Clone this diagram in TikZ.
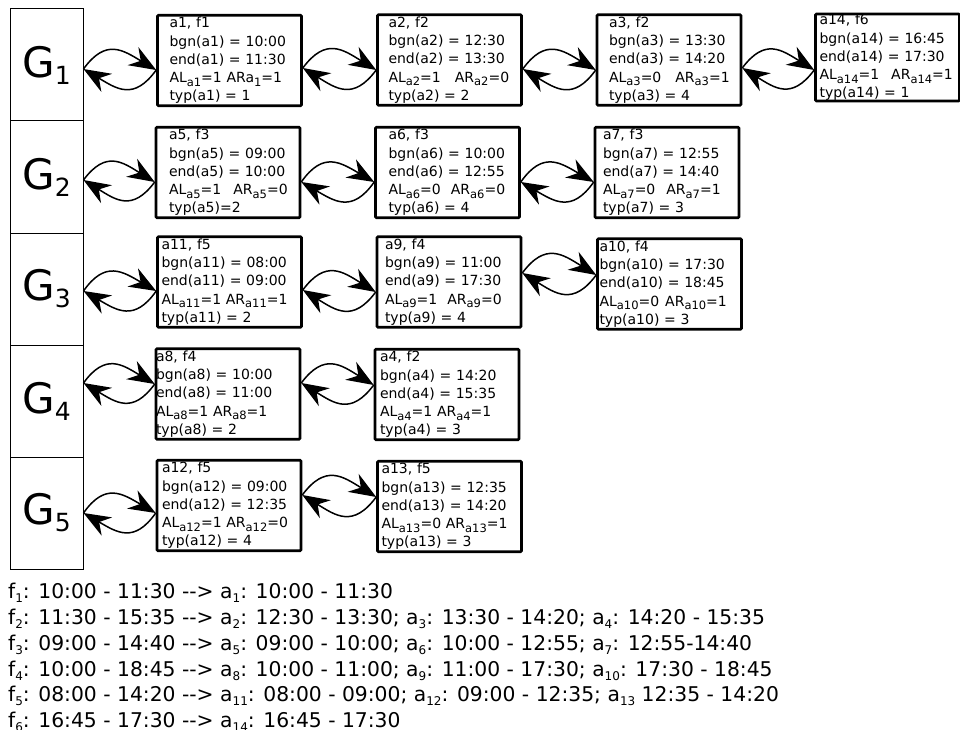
\documentclass[tikz,border=0pt]{standalone}
\usepackage{fontspec}
\newfontfamily\dejavu{DejaVu Sans}
\usetikzlibrary{arrows.meta}

\newcommand{\asub}[1]{\raisebox{-3.5pt}{\fontsize{11.5pt}{11.5pt}\selectfont #1}}
\newcommand{\lsub}[1]{\raisebox{-4pt}{\fontsize{12pt}{12pt}\selectfont #1}}
\newcommand{\gname}[1]{{\fontsize{42pt}{42pt}\selectfont G}\raisebox{-7pt}{\fontsize{25pt}{25pt}\selectfont #1}}

\tikzset{
  gcell/.style={draw, line width=1pt, minimum width=73pt, minimum height=112pt, inner sep=0pt, font=\dejavu},
  actbox/.style={draw, line width=2.6pt, rounded corners=1pt, minimum width=144pt, minimum height=90.5pt,
    inner xsep=0pt, inner ysep=0pt, text width=144pt, align=left, font=\dejavu\fontsize{14pt}{18.2pt}\selectfont,
    execute at begin node={\leftskip=#1\rightskip=0pt plus 1fil minus 25pt\relax}},
  actbox/.default=10pt,
  link/.style={line width=1.5pt, out=55, in=150, relative, looseness=1.35},
}

\begin{document}
\begin{tikzpicture}[x=1pt, y=-1pt, >={Stealth[length=27pt,width=21pt,inset=9pt]}]
        \useasboundingbox (0,0) rectangle (960,730);
        % groups
        \node[gcell] (g1) at (46.5,65) {\gname{1}};
        \node[gcell] (g2) at (46.5,177) {\gname{2}};
        \node[gcell] (g3) at (46.5,289) {\gname{3}};
        \node[gcell] (g4) at (46.5,401) {\gname{4}};
        \node[gcell] (g5) at (46.5,513) {\gname{5}};
        % activities
        \node[actbox=12pt] (a1) at (229.5,60.5) {a1, f1\\bgn(a1) = 10:00\\end(a1) = 11:30\\AL\asub{a1}=1 ARa\asub{1}=1\\typ(a1) = 1};
        \node[actbox=11pt] (a2) at (449.5,60) {a2, f2\\bgn(a2) = 12:30\\end(a2) = 13:30\\AL\asub{a2}=1\hspace{14pt}AR\asub{a2}=0\\typ(a2) = 2};
        \node[actbox=12pt] (a3) at (669,60) {a3, f2\\bgn(a3) = 13:30\\end(a3) = 14:20\\AL\asub{a3}=0\hspace{14pt}AR\asub{a3}=1\\typ(a3) = 4};
        \node[actbox=4pt, minimum height=87pt] (a14) at (887.5,57.5) {a14, f6\\bgn(a14) = 16:45\\end(a14) = 17:30\\AL\asub{a14}=1\hspace{12pt}AR\asub{a14}=1\\typ(a14) = 1};
        \node[actbox=13pt] (a5) at (228,172.5) {a5, f3\\bgn(a5) = 09:00\\end(a5) = 10:00\\AL\asub{a5}=1\hspace{12pt}AR\asub{a5}=0\\typ(a5)=2};
        \node[actbox=13pt] (a6) at (447.5,172.5) {a6, f3\\bgn(a6) = 10:00\\end(a6) = 12:55\\AL\asub{a6}=0\hspace{10pt}AR\asub{a6}=0\\typ(a6) = 4};
        \node[actbox=8pt] (a7) at (667,172.5) {a7, f3\\bgn(a7) = 12:55\\end(a7) = 14:40\\AL\asub{a7}=0\hspace{11pt}AR\asub{a7}=1\\typ(a7) = 3};
        \node[actbox=4pt] (a11) at (229.5,282) {a11, f5\\bgn(a11) = 08:00\\end(a11) = 09:00\\AL\asub{a11}=1 AR\asub{a11}=1\\typ(a11) = 2};
        \node[actbox=8pt] (a9) at (449,282) {a9, f4\\bgn(a9) = 11:00\\end(a9) = 17:30\\AL\asub{a9}=1\hspace{10pt}AR\asub{a9}=0\\typ(a9) = 4};
        \node[actbox=2pt] (a10) at (669.5,284) {a10, f4\\bgn(a10) = 17:30\\end(a10) = 18:45\\AL\asub{a10}=0\hspace{6pt}AR\asub{a10}=1\\typ(a10) = 3};
        \node[actbox=0pt] (a8) at (228,394) {a8, f4\\bgn(a8) = 10:00\\end(a8) = 11:00\\AL\asub{a8}=1 AR\asub{a8}=1\\typ(a8) = 2};
        \node[actbox=5pt] (a4) at (447,394.5) {a4, f2\\bgn(a4) = 14:20\\end(a4) = 15:35\\AL\asub{a4}=1 AR\asub{a4}=1\\typ(a4) = 3};
        \node[actbox=5pt] (a12) at (229,505.5) {a12, f5\\bgn(a12) = 09:00\\end(a12) = 12:35\\AL\asub{a12}=1 AR\asub{a12}=0\\typ(a12) = 4};
        \node[actbox=4pt] (a13) at (449.5,506.5) {a13, f5\\bgn(a13) = 12:35\\end(a13) = 14:20\\AL\asub{a13}=0 AR\asub{a13}=1\\typ(a13) = 3};
        % links, one pair per neighbour
        \draw[->, link] ([yshift=-4pt]g1.east) to ([yshift=-9.5pt]a1.west);
        \draw[->, link] ([yshift=-9.5pt]a1.west) to ([yshift=-4pt]g1.east);
        \draw[->, link] ([yshift=-7.5pt]a1.east) to ([yshift=-10pt]a2.west);
        \draw[->, link] ([yshift=-10pt]a2.west) to ([yshift=-7.5pt]a1.east);
        \draw[->, link] ([yshift=-9pt]a2.east) to ([yshift=-10pt]a3.west);
        \draw[->, link] ([yshift=-10pt]a3.west) to ([yshift=-9pt]a2.east);
        \draw[->, link] ([yshift=-8pt]a3.east) to ([yshift=-12.5pt]a14.west);
        \draw[->, link] ([yshift=-12.5pt]a14.west) to ([yshift=-8pt]a3.east);
        \draw[->, link] ([yshift=-3pt]g2.east) to ([yshift=-9.5pt]a5.west);
        \draw[->, link] ([yshift=-9.5pt]a5.west) to ([yshift=-3pt]g2.east);
        \draw[->, link] ([yshift=-9.5pt]a5.east) to ([yshift=-9.5pt]a6.west);
        \draw[->, link] ([yshift=-9.5pt]a6.west) to ([yshift=-9.5pt]a5.east);
        \draw[->, link] ([yshift=-9.5pt]a6.east) to ([yshift=-9.5pt]a7.west);
        \draw[->, link] ([yshift=-9.5pt]a7.west) to ([yshift=-9.5pt]a6.east);
        \draw[->, link] ([yshift=-2pt]g3.east) to ([yshift=-9pt]a11.west);
        \draw[->, link] ([yshift=-9pt]a11.west) to ([yshift=-2pt]g3.east);
        \draw[->, link] ([yshift=-8pt]a11.east) to ([yshift=-10pt]a9.west);
        \draw[->, link] ([yshift=-10pt]a9.west) to ([yshift=-8pt]a11.east);
        \draw[->, link] ([yshift=9pt]a9.east) to ([yshift=9pt]a10.west);
        \draw[->, link] ([yshift=9pt]a10.west) to ([yshift=9pt]a9.east);
        \draw[->, link] ([yshift=18pt]g4.east) to ([yshift=10pt]a8.west);
        \draw[->, link] ([yshift=10pt]a8.west) to ([yshift=18pt]g4.east);
        \draw[->, link] ([yshift=11pt]a8.east) to ([yshift=9.5pt]a4.west);
        \draw[->, link] ([yshift=9.5pt]a4.west) to ([yshift=11pt]a8.east);
        \draw[->, link] (g5.east) to ([yshift=-7.5pt]a12.west);
        \draw[->, link] ([yshift=-7.5pt]a12.west) to (g5.east);
        \draw[->, link] ([yshift=10.5pt]a12.east) to ([yshift=9.5pt]a13.west);
        \draw[->, link] ([yshift=9.5pt]a13.west) to ([yshift=10.5pt]a12.east);
        % flights and their activities
        \node[anchor=north west, inner sep=0pt, align=left, font=\dejavu\fontsize{20.3pt}{25.8pt}\selectfont] (flist) at (8,583) {%
          f\lsub{1}: 10:00 - 11:30 --> a\lsub{1}: 10:00 - 11:30\\
          f\lsub{2}: 11:30 - 15:35 --> a\lsub{2}: 12:30 - 13:30; a\lsub{3}: 13:30 - 14:20; a\lsub{4}: 14:20 - 15:35\\
          f\lsub{3}: 09:00 - 14:40 --> a\lsub{5}: 09:00 - 10:00; a\lsub{6}: 10:00 - 12:55; a\lsub{7}: 12:55-14:40\\
          f\lsub{4}: 10:00 - 18:45 --> a\lsub{8}: 10:00 - 11:00; a\lsub{9}: 11:00 - 17:30; a\lsub{10}: 17:30 - 18:45\\
          f\lsub{5}: 08:00 - 14:20 --> a\lsub{11}: 08:00 - 09:00; a\lsub{12}: 09:00 - 12:35; a\lsub{13} 12:35 - 14:20\\
          f\lsub{6}: 16:45 - 17:30 --> a\lsub{14}: 16:45 - 17:30};
\end{tikzpicture}
\end{document}
